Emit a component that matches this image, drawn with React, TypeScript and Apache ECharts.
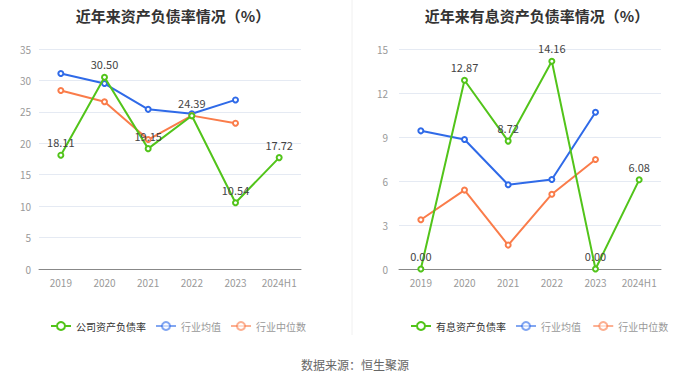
import React, { useEffect, useRef } from "react";
import * as echarts from "echarts";

const years = ["2019", "2020", "2021", "2022", "2023", "2024H1"];
const leftCompany = [18.11, 30.5, 19.15, 24.39, 10.54, 17.72];
const leftAvg = [31.1, 29.5, 25.4, 24.7, 26.9, null];
const leftMedian = [28.4, 26.6, 20.6, 24.4, 23.2, null];
const rightCompany = [0.0, 12.87, 8.72, 14.16, 0.0, 6.08];
const rightAvg = [9.42, 8.83, 5.74, 6.1, 10.69, null];
const rightMedian = [3.36, 5.38, 1.63, 5.1, 7.47, null];

const GREEN = "#52c41a";
const BLUE = "#2f6ae8";
const ORANGE = "#fa7c4a";
const FONT = "'Noto Sans CJK SC', 'Noto Sans', sans-serif";

export default function App() {
  const ref = useRef<HTMLDivElement>(null);
  useEffect(() => {
    const chart = echarts.init(ref.current!, null, { renderer: "svg" });
    const xAxis = (gi: number) => ({
      type: "category",
      gridIndex: gi,
      data: years,
      axisLine: { lineStyle: { color: "#888", width: 1 } },
      axisTick: { alignWithLabel: true, lineStyle: { color: "#888" } },
      axisLabel: { color: "#999", fontSize: 10, fontFamily: FONT, margin: 8, interval: 0 },
    });
    const yAxis = (gi: number, max: number, interval: number, margin: number) => ({
      type: "value",
      gridIndex: gi,
      min: 0,
      max,
      interval,
      axisLine: { show: false },
      axisTick: { show: false },
      axisLabel: { color: "#999", fontSize: 10, fontFamily: FONT, margin },
      splitLine: { lineStyle: { color: "#e5eaf3" } },
    });
    const line = (name: string, data: any[], color: string, gi: number, label: boolean) => ({
      name,
      type: "line",
      xAxisIndex: gi,
      yAxisIndex: gi,
      data,
      symbol: "emptyCircle",
      symbolSize: 5,
      lineStyle: { color, width: 2 },
      itemStyle: { color, borderWidth: 1.5 },
      label: label
        ? {
            show: true,
            position: "top",
            distance: 4,
            color: "#444",
            fontSize: 11,
            fontFamily: FONT,
            formatter: (p: any) => Number(p.value).toFixed(2),
          }
        : { show: false },
      z: label ? 3 : 2,
    });
    const legendCommon = {
      itemWidth: 20,
      itemHeight: 10,
      itemGap: 9,
      top: 316,
      textStyle: { fontSize: 10, fontFamily: FONT, color: "#999" },
    };
    chart.setOption({
      animation: false,
      title: [
        {
          text: "近年来资产负债率情况（%）",
          left: 168,
          textAlign: "center",
          top: 3,
          textStyle: { fontSize: 15, fontWeight: "bold", color: "#333", fontFamily: FONT },
        },
        {
          text: "近年来有息资产负债率情况（%）",
          left: 532,
          textAlign: "center",
          top: 3,
          textStyle: { fontSize: 15, fontWeight: "bold", color: "#333", fontFamily: FONT },
        },
        {
          text: "数据来源：恒生聚源",
          left: 350,
          textAlign: "center",
          top: 353,
          textStyle: { fontSize: 12, fontWeight: "normal", color: "#666", fontFamily: FONT },
        },
      ],
      legend: [
        {
          ...legendCommon,
          left: 45,
          data: [
            { name: "公司资产负债率", textStyle: { color: "#333" } },
            { name: "行业均值", itemStyle: { opacity: 0.6 }, lineStyle: { opacity: 0.6 } },
            { name: "行业中位数", itemStyle: { opacity: 0.6 }, lineStyle: { opacity: 0.6 } },
          ],
        },
        {
          ...legendCommon,
          left: 405,
          data: [
            { name: "有息资产负债率", textStyle: { color: "#333" } },
            { name: "行业均值 ", itemStyle: { opacity: 0.6 }, lineStyle: { opacity: 0.6 } },
            { name: "行业中位数 ", itemStyle: { opacity: 0.6 }, lineStyle: { opacity: 0.6 } },
          ],
        },
      ],
      grid: [
        { left: 39, width: 262, top: 49, height: 220 },
        { left: 399, width: 262, top: 49, height: 220 },
      ],
      xAxis: [xAxis(0), xAxis(1)],
      yAxis: [yAxis(0, 35, 5, 8), yAxis(1, 15, 3, 11)],
      graphic: [
        {
          type: "line",
          shape: { x1: 352, y1: 0, x2: 352, y2: 335 },
          style: { stroke: "#f0f0f0", lineWidth: 1 },
        },
      ],
      series: [
        line("行业均值", leftAvg, BLUE, 0, false),
        line("行业中位数", leftMedian, ORANGE, 0, false),
        line("公司资产负债率", leftCompany, GREEN, 0, true),
        line("行业均值 ", rightAvg, BLUE, 1, false),
        line("行业中位数 ", rightMedian, ORANGE, 1, false),
        line("有息资产负债率", rightCompany, GREEN, 1, true),
      ],
    });
    return () => chart.dispose();
  }, []);
  return (
    <div
      ref={ref}
      style={{ position: "fixed", left: 0, top: 0, width: 700, height: 378, background: "#fff" }}
    />
  );
}
